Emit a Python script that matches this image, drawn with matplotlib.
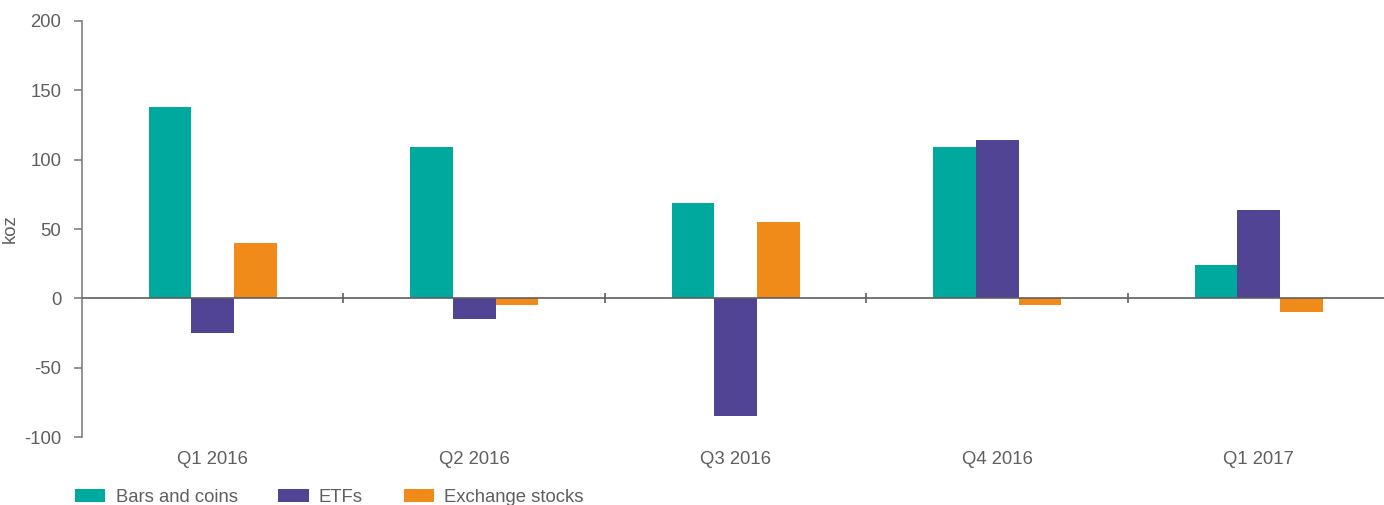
import numpy as np
import matplotlib.pyplot as plt

plt.rcParams['font.family'] = ['Liberation Sans', 'DejaVu Sans']
plt.rcParams['axes.unicode_minus'] = False

# data (koz)
quarters = ['Q1 2016', 'Q2 2016', 'Q3 2016', 'Q4 2016', 'Q1 2017']
bars_coins = [138, 109, 69, 109, 24]
etfs = [-25, -15, -85, 114, 64]
exchange = [40, -5, 55, -5, -10]

series = ['Bars and coins', 'ETFs', 'Exchange stocks']
colours = ['#00A99D', '#514494', '#F08A18']
grey = '#5f5f5f'
fs = 13.3

fig = plt.figure(figsize=(13.84, 5.05), dpi=100)
ax = fig.add_axes([82 / 1384, 68 / 505, 1302 / 1384, 416 / 505])

x = np.arange(len(quarters))
w = 0.163
for i, (vals, name, c) in enumerate(zip([bars_coins, etfs, exchange], series, colours)):
    ax.bar(x + (i - 1) * w, vals, width=w, color=c, label=name, zorder=2)

ax.set_xlim(-0.5, 4.479)
ax.set_ylim(-100, 200)
ax.set_yticks([-100, -50, 0, 50, 100, 150, 200])

# zero line with category dividers
ax.axhline(0, color=grey, lw=1.2, zorder=3)
bounds = x[:-1] + 0.5
ax.vlines(bounds, -3.5, 3.5, color=grey, lw=1.2, zorder=3)

for s in ['top', 'right', 'bottom']:
    ax.spines[s].set_visible(False)
ax.spines['left'].set_color('#808080')
ax.spines['left'].set_linewidth(1.2)

ax.set_xticks(x)
ax.set_xticklabels(quarters)
ax.tick_params(axis='x', length=0, pad=10, labelsize=fs, labelcolor=grey)
ax.tick_params(axis='y', length=6, width=1.2, color='#808080', pad=9,
               labelsize=fs, labelcolor=grey)

ax.set_ylabel('koz', fontsize=fs, color=grey, labelpad=4)

fig.legend(loc='center left', bbox_to_anchor=(75 / 1384, 8 / 505), ncol=3,
           frameon=False, fontsize=fs, labelcolor=grey,
           handlelength=1.65, handleheight=0.7, handletextpad=0.55,
           columnspacing=2.2, borderpad=0, borderaxespad=0)

fig.savefig('out.png', dpi=100)
